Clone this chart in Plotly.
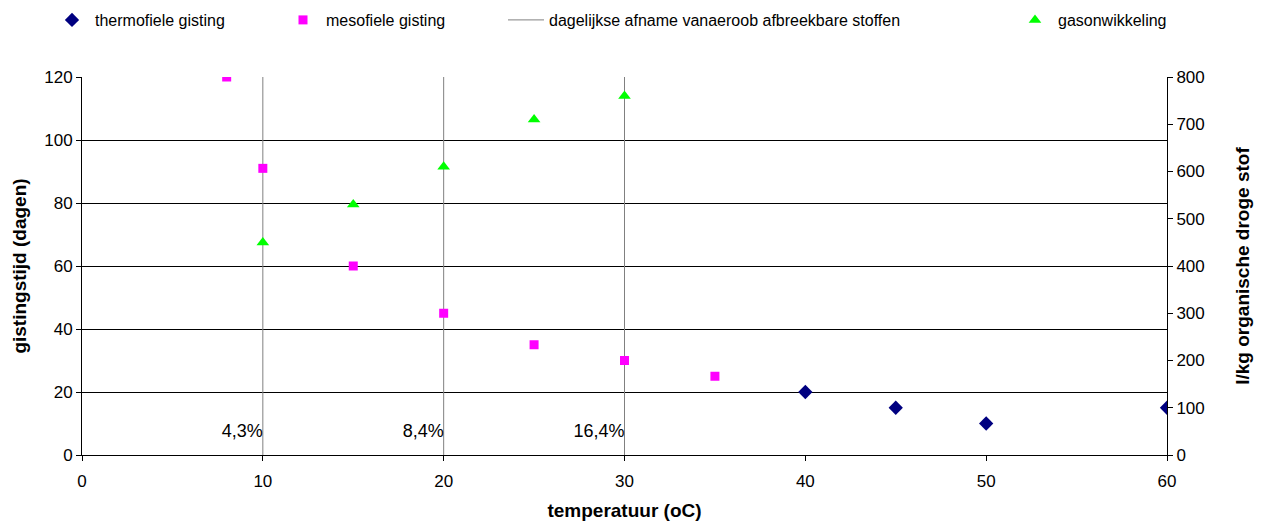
import plotly.graph_objects as go

# data
thermo_x = [40, 45, 50, 60]
thermo_y = [20, 15, 10, 15]
meso_x = [8, 10, 15, 20, 25, 30, 35]
meso_y = [120, 91, 60, 45, 35, 30, 25]
gas_x = [10, 15, 20, 25, 30]
gas_y = [450, 530, 610, 710, 760]
vline_x = [10, 10, None, 20, 20, None, 30, 30]
vline_y = [0, 120, None, 0, 120, None, 0, 120]
label_x = [10, 20, 30]
label_y = [7.3, 7.3, 7.3]
label_text = ["4,3%", "8,4%", "16,4%"]

FONT = "Liberation Sans, Arial, sans-serif"
W, H = 1263, 521

fig = go.Figure()
fig.add_trace(go.Scatter(x=vline_x, y=vline_y, mode="lines",
                         line=dict(color="#808080", width=1),
                         name="dagelijkse afname vanaeroob afbreekbare stoffen",
                         legend="legend3"))
fig.add_trace(go.Scatter(x=thermo_x, y=thermo_y, mode="markers",
                         marker=dict(symbol="diamond", color="#000080", size=11),
                         name="thermofiele gisting", legend="legend"))
fig.add_trace(go.Scatter(x=meso_x, y=meso_y, mode="markers",
                         marker=dict(symbol="square", color="#FF00FF", size=9),
                         name="mesofiele gisting", legend="legend2"))
fig.add_trace(go.Scatter(x=gas_x, y=gas_y, mode="markers", yaxis="y2",
                         marker=dict(symbol="triangle-up", color="#00FF00", size=11),
                         name="gasonwikkeling", legend="legend4"))
fig.add_trace(go.Scatter(x=label_x, y=label_y, mode="text", text=label_text,
                         textposition="middle left",
                         textfont=dict(family=FONT, size=18, color="#000"),
                         showlegend=False, hoverinfo="skip"))

def leg(px):
    return dict(x=(px - 22) / W, y=1 - 3 / H, xref="container", yref="container",
                xanchor="left", yanchor="top", orientation="h",
                itemwidth=36,
                bgcolor="rgba(0,0,0,0)", borderwidth=0,
                font=dict(family=FONT, size=16, color="#000"))

axfont = dict(family=FONT, size=17, color="#000")
titfont = dict(family=FONT, size=19, color="#000")

fig.update_layout(
    width=W, height=H,
    margin=dict(l=82, r=96, t=77, b=66, autoexpand=False),
    paper_bgcolor="white", plot_bgcolor="white",
    font=dict(family=FONT, size=17, color="#000"),
    showlegend=True,
    legend=leg(71), legend2=leg(302), legend3=leg(525), legend4=leg(1034),
    xaxis=dict(range=[0, 60], dtick=10, showgrid=False, zeroline=False,
               showline=True, linecolor="#000", linewidth=1,
               ticks="outside", ticklen=5, tickcolor="#000",
               ticklabelstandoff=6, automargin=False,
               tickfont=axfont,
               title=dict(text="<b>temperatuur (oC)</b>", font=titfont,
                          standoff=14)),
    yaxis=dict(range=[0, 120], dtick=20, showgrid=True, gridcolor="#000", gridwidth=1,
               zeroline=False, showline=True, linecolor="#000", linewidth=1,
               ticks="outside", ticklen=5, tickcolor="#000", automargin=False,
               tickfont=axfont,
               title=dict(text="<b>gistingstijd (dagen)</b>", font=titfont,
                          standoff=12)),
    yaxis2=dict(range=[0, 800], dtick=100, overlaying="y", side="right",
                showgrid=False, zeroline=False, showline=True, linecolor="#000",
                linewidth=1, ticks="outside", ticklen=5, tickcolor="#000",
                automargin=False,
                tickfont=axfont,
                title=dict(text="<b>l/kg organische droge stof</b>",
                           font=titfont, standoff=31)),
)

fig.write_html("out.html")
